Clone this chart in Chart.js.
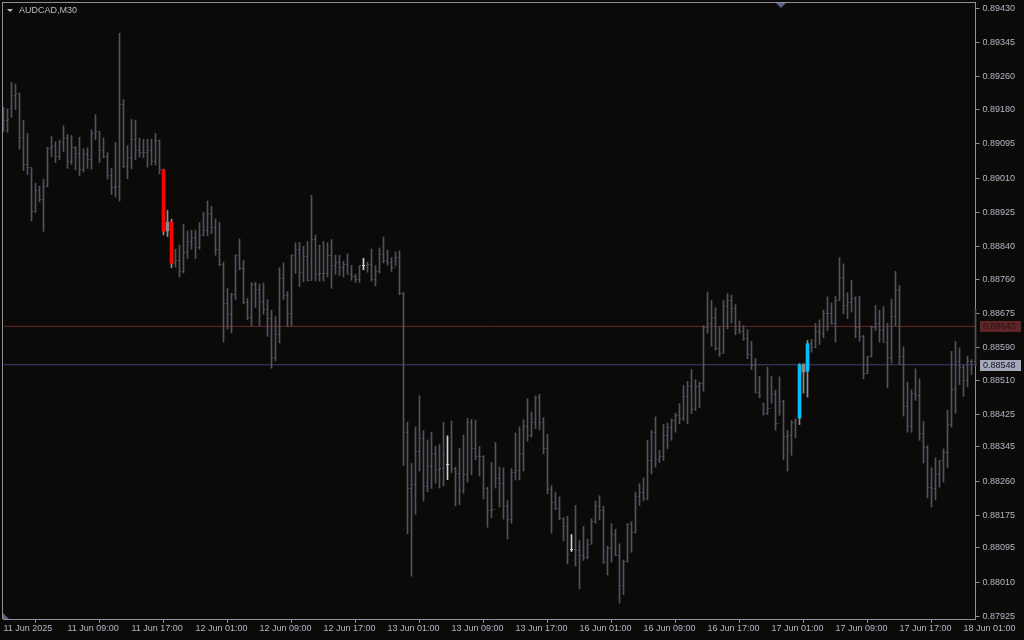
<!DOCTYPE html>
<html>
<head>
<meta charset="utf-8">
<title>AUDCAD,M30</title>
<script src="https://cdn.jsdelivr.net/npm/chart.js@4.4.1/dist/chart.umd.min.js"></script>
<style>
  html, body { margin: 0; padding: 0; background: #0c0a08; }
  canvas { display: block; }
</style>
</head>
<body>
<canvas id="chart" width="1024" height="640"></canvas>
<script>
// AUDCAD M30 bars, 11 Jun 01:00 .. 18 Jun 02:30
const symbol = "AUDCAD,M30";

const opens = [
  0.89155,0.89153,0.89181,0.89215,0.89219,0.89111,0.89044,0.89036,0.88928,0.88979,
  0.88958,0.88988,0.89084,0.89087,0.89064,0.89098,0.89109,0.89051,0.89086,0.89070,
  0.89030,0.89069,0.89056,0.89120,0.89125,0.89078,0.89064,0.89016,0.88986,0.88990,
  0.89191,0.89038,0.89062,0.89106,0.89078,0.89074,0.89072,0.89078,0.89051,0.89102,
  0.89030,0.88879,0.88901,0.88799,0.88806,0.88779,0.88825,0.88853,0.88862,0.88839,
  0.88867,0.88881,0.88923,0.88887,0.88834,0.88797,0.88699,0.88673,0.88723,0.88819,
  0.88785,0.88702,0.88664,0.88746,0.88735,0.88704,0.88685,0.88662,0.88565,0.88622,
  0.88762,0.88720,0.88676,0.88819,0.88833,0.88777,0.88816,0.88757,0.88858,0.88772,
  0.88774,0.88774,0.88819,0.88793,0.88802,0.88788,0.88797,0.88772,0.88766,0.88760,
  0.88794,0.88794,0.88797,0.88760,0.88779,0.88822,0.88806,0.88800,0.88788,0.88814,
  0.88725,0.88381,0.88243,0.88251,0.88334,0.88365,0.88248,0.88297,0.88329,0.88290,
  0.88292,0.88301,0.88301,0.88292,0.88278,0.88236,0.88276,0.88406,0.88341,0.88320,
  0.88320,0.88243,0.88188,0.88189,0.88266,0.88254,0.88198,0.88164,0.88282,0.88287,
  0.88329,0.88395,0.88373,0.88406,0.88468,0.88406,0.88340,0.88240,0.88208,0.88192,
  0.88168,0.88149,0.88090,0.88090,0.88089,0.88076,0.88070,0.88103,0.88159,0.88198,
  0.88188,0.88060,0.88094,0.88128,0.88076,0.88002,0.88061,0.88153,0.88132,0.88223,
  0.88231,0.88216,0.88310,0.88381,0.88313,0.88320,0.88373,0.88394,0.88409,0.88423,
  0.88414,0.88470,0.88493,0.88437,0.88493,0.88501,0.88640,0.88650,0.88664,0.88588,
  0.88575,0.88692,0.88707,0.88687,0.88635,0.88631,0.88612,0.88574,0.88546,0.88480,
  0.88452,0.88428,0.88439,0.88475,0.88402,0.88456,0.88371,0.88372,0.88406,0.88416,
  0.88548,0.88532,0.88600,0.88590,0.88631,0.88626,0.88674,0.88676,0.88650,0.88707,
  0.88763,0.88695,0.88703,0.88711,0.88640,0.88617,0.88526,0.88569,0.88641,0.88650,
  0.88633,0.88604,0.88565,0.88668,0.88732,0.88569,0.88445,0.88395,0.88478,0.88472,
  0.88377,0.88343,0.88245,0.88241,0.88277,0.88311,0.88332,0.88400,0.88486,0.88555,
  0.88542,0.88509,0.88555,0.88557
];
const highs = [
  0.89185,0.89181,0.89247,0.89242,0.89220,0.89153,0.89120,0.89036,0.88997,0.88990,
  0.89007,0.89086,0.89113,0.89100,0.89104,0.89139,0.89118,0.89115,0.89088,0.89111,
  0.89083,0.89085,0.89129,0.89167,0.89125,0.89109,0.89073,0.89034,0.89098,0.89368,
  0.89204,0.89090,0.89155,0.89153,0.89109,0.89106,0.89106,0.89106,0.89120,0.89104,
  0.89032,0.88930,0.88908,0.88834,0.88844,0.88895,0.88879,0.88881,0.88881,0.88900,
  0.88925,0.88953,0.88940,0.88909,0.88900,0.88802,0.88737,0.88725,0.88820,0.88859,
  0.88806,0.88712,0.88751,0.88752,0.88748,0.88750,0.88709,0.88683,0.88667,0.88788,
  0.88800,0.88729,0.88820,0.88850,0.88851,0.88841,0.88853,0.88967,0.88869,0.88844,
  0.88853,0.88850,0.88858,0.88819,0.88819,0.88804,0.88822,0.88794,0.88772,0.88793,
  0.88811,0.88802,0.88834,0.88793,0.88837,0.88864,0.88832,0.88813,0.88827,0.88830,
  0.88727,0.88406,0.88304,0.88394,0.88471,0.88385,0.88362,0.88381,0.88346,0.88351,
  0.88406,0.88372,0.88409,0.88295,0.88341,0.88374,0.88416,0.88413,0.88411,0.88346,
  0.88323,0.88245,0.88306,0.88356,0.88295,0.88293,0.88212,0.88291,0.88379,0.88394,
  0.88412,0.88464,0.88431,0.88471,0.88475,0.88417,0.88376,0.88249,0.88233,0.88221,
  0.88170,0.88173,0.88128,0.88200,0.88113,0.88148,0.88117,0.88167,0.88211,0.88224,
  0.88198,0.88099,0.88155,0.88141,0.88105,0.88065,0.88155,0.88160,0.88233,0.88254,
  0.88268,0.88361,0.88386,0.88419,0.88336,0.88400,0.88404,0.88414,0.88428,0.88452,
  0.88497,0.88507,0.88536,0.88511,0.88505,0.88645,0.88728,0.88707,0.88689,0.88641,
  0.88707,0.88724,0.88720,0.88697,0.88656,0.88645,0.88635,0.88606,0.88563,0.88519,
  0.88453,0.88542,0.88519,0.88485,0.88518,0.88460,0.88386,0.88410,0.88414,0.88551,
  0.88551,0.88608,0.88611,0.88650,0.88659,0.88683,0.88716,0.88701,0.88717,0.88813,
  0.88798,0.88726,0.88757,0.88716,0.88717,0.88621,0.88569,0.88644,0.88695,0.88683,
  0.88692,0.88650,0.88710,0.88779,0.88744,0.88592,0.88505,0.88486,0.88538,0.88513,
  0.88408,0.88348,0.88293,0.88318,0.88311,0.88340,0.88435,0.88581,0.88606,0.88590,
  0.88546,0.88569,0.88561,0.88685
];
const lows = [
  0.89125,0.89123,0.89160,0.89179,0.89081,0.89028,0.89018,0.88904,0.88925,0.88951,
  0.88878,0.88988,0.89062,0.89048,0.89055,0.89076,0.89034,0.89044,0.89030,0.89016,
  0.89025,0.89034,0.89032,0.89104,0.89048,0.89060,0.89007,0.88969,0.88963,0.88953,
  0.89036,0.89008,0.89033,0.89055,0.89062,0.89060,0.89037,0.89042,0.89042,0.89020,
  0.88869,0.88865,0.88788,0.88790,0.88765,0.88775,0.88811,0.88834,0.88811,0.88834,
  0.88867,0.88867,0.88872,0.88819,0.88793,0.88604,0.88636,0.88627,0.88709,0.88783,
  0.88699,0.88660,0.88644,0.88690,0.88644,0.88673,0.88618,0.88539,0.88558,0.88602,
  0.88709,0.88642,0.88644,0.88774,0.88741,0.88753,0.88755,0.88757,0.88755,0.88755,
  0.88755,0.88765,0.88737,0.88772,0.88769,0.88765,0.88772,0.88757,0.88752,0.88752,
  0.88783,0.88777,0.88755,0.88743,0.88775,0.88800,0.88794,0.88779,0.88793,0.88721,
  0.88299,0.88130,0.88025,0.88178,0.88285,0.88211,0.88234,0.88242,0.88255,0.88243,
  0.88248,0.88264,0.88281,0.88199,0.88202,0.88230,0.88258,0.88276,0.88313,0.88273,
  0.88216,0.88146,0.88170,0.88243,0.88196,0.88166,0.88117,0.88156,0.88263,0.88263,
  0.88285,0.88359,0.88369,0.88390,0.88387,0.88328,0.88229,0.88131,0.88189,0.88165,
  0.88112,0.88055,0.88086,0.88050,0.87994,0.88064,0.88068,0.88105,0.88156,0.88164,
  0.88057,0.88028,0.88060,0.88076,0.87958,0.87979,0.88060,0.88084,0.88132,0.88200,
  0.88211,0.88214,0.88278,0.88295,0.88306,0.88311,0.88340,0.88361,0.88381,0.88402,
  0.88410,0.88402,0.88427,0.88435,0.88442,0.88483,0.88626,0.88594,0.88584,0.88569,
  0.88577,0.88637,0.88651,0.88622,0.88625,0.88608,0.88563,0.88536,0.88478,0.88466,
  0.88423,0.88425,0.88453,0.88386,0.88423,0.88313,0.88285,0.88324,0.88367,0.88400,
  0.88478,0.88468,0.88579,0.88590,0.88598,0.88615,0.88633,0.88648,0.88604,0.88707,
  0.88674,0.88662,0.88678,0.88615,0.88606,0.88513,0.88526,0.88567,0.88633,0.88604,
  0.88604,0.88491,0.88552,0.88645,0.88548,0.88421,0.88381,0.88381,0.88460,0.88361,
  0.88305,0.88219,0.88196,0.88214,0.88245,0.88258,0.88293,0.88394,0.88428,0.88499,
  0.88470,0.88493,0.88524,0.88546
];
const closes = [
  0.89153,0.89155,0.89215,0.89219,0.89111,0.89044,0.89036,0.88928,0.88979,0.88958,
  0.88988,0.89084,0.89087,0.89064,0.89098,0.89109,0.89051,0.89086,0.89070,0.89030,
  0.89069,0.89056,0.89120,0.89125,0.89078,0.89064,0.89016,0.88986,0.88990,0.89191,
  0.89038,0.89062,0.89106,0.89078,0.89074,0.89072,0.89078,0.89051,0.89102,0.89030,
  0.88879,0.88901,0.88799,0.88806,0.88779,0.88825,0.88853,0.88862,0.88839,0.88867,
  0.88881,0.88923,0.88887,0.88834,0.88797,0.88699,0.88673,0.88723,0.88819,0.88785,
  0.88702,0.88664,0.88746,0.88735,0.88704,0.88685,0.88662,0.88565,0.88622,0.88762,
  0.88720,0.88676,0.88819,0.88833,0.88777,0.88816,0.88757,0.88858,0.88772,0.88774,
  0.88774,0.88819,0.88793,0.88802,0.88788,0.88797,0.88772,0.88766,0.88760,0.88793,
  0.88794,0.88797,0.88760,0.88779,0.88822,0.88806,0.88800,0.88788,0.88814,0.88725,
  0.88381,0.88243,0.88251,0.88334,0.88365,0.88248,0.88297,0.88329,0.88290,0.88292,
  0.88327,0.88301,0.88292,0.88278,0.88236,0.88276,0.88406,0.88341,0.88320,0.88320,
  0.88243,0.88188,0.88189,0.88266,0.88254,0.88198,0.88164,0.88282,0.88287,0.88329,
  0.88395,0.88373,0.88406,0.88468,0.88406,0.88340,0.88240,0.88208,0.88192,0.88168,
  0.88149,0.88079,0.88090,0.88089,0.88076,0.88070,0.88103,0.88159,0.88198,0.88188,
  0.88060,0.88094,0.88128,0.88076,0.88002,0.88061,0.88153,0.88132,0.88223,0.88231,
  0.88216,0.88310,0.88381,0.88313,0.88320,0.88373,0.88394,0.88409,0.88423,0.88414,
  0.88470,0.88493,0.88437,0.88493,0.88501,0.88640,0.88650,0.88664,0.88588,0.88575,
  0.88692,0.88707,0.88687,0.88635,0.88631,0.88612,0.88574,0.88546,0.88480,0.88472,
  0.88428,0.88439,0.88475,0.88402,0.88456,0.88371,0.88372,0.88406,0.88410,0.88548,
  0.88530,0.88600,0.88590,0.88631,0.88626,0.88674,0.88676,0.88650,0.88707,0.88763,
  0.88695,0.88703,0.88711,0.88640,0.88617,0.88526,0.88569,0.88641,0.88650,0.88633,
  0.88604,0.88565,0.88668,0.88732,0.88569,0.88445,0.88395,0.88478,0.88472,0.88377,
  0.88343,0.88245,0.88241,0.88277,0.88311,0.88332,0.88400,0.88486,0.88555,0.88542,
  0.88509,0.88555,0.88557,0.88548
];

// bars painted as candles by the pattern highlighter
const redCandles = [40, 42];
const grayCandles = [41, 200];
const blueCandles = [199, 201];
// bars drawn in white (doji colour)
const dojiBars = [90, 111, 142];

const xTickBars = [0, 16, 32, 48, 64, 80, 96, 112, 128, 144, 160, 176, 192, 208, 224, 240];
const xTickLabels = [
  "11 Jun 2025", "11 Jun 09:00", "11 Jun 17:00", "12 Jun 01:00", "12 Jun 09:00", "12 Jun 17:00",
  "13 Jun 01:00", "13 Jun 09:00", "13 Jun 17:00", "16 Jun 01:00", "16 Jun 09:00", "16 Jun 17:00",
  "17 Jun 01:00", "17 Jun 09:00", "17 Jun 17:00", "18 Jun 01:00"
];
const yTicks = [
  0.89430, 0.89345, 0.89260, 0.89180, 0.89095, 0.89010, 0.88925, 0.88840, 0.88760, 0.88675,
  0.88590, 0.88510, 0.88425, 0.88345, 0.88260, 0.88175, 0.88095, 0.88010, 0.87925
];
const yMin = 0.87919;
const yMax = 0.89443;

const askLevel = 0.88643;
const bidLevel = 0.88548;

const bgColor = "#0c0a08";
const barColor = "#50535d";
const dojiColor = "#d2d2d2";
const wickColor = "#8e8e8e";
const axisColor = "#8a90a0";
const textColor = "#b3b9c6";
const markerColor = "#5a6288";
const font = { family: "Liberation Sans", size: 9 };

const candleIdx = [...redCandles, ...grayCandles, ...blueCandles].sort((a, b) => a - b);

function barColorFor(i) {
  if (candleIdx.includes(i)) return wickColor;
  if (dojiBars.includes(i)) return dojiColor;
  return barColor;
}
function bodyColorFor(i) {
  if (redCandles.includes(i)) return "#ff0000";
  if (blueCandles.includes(i)) return "#00bfff";
  return "#8a8a8a";
}

const wickData = highs.map((h, i) => ({ x: i, y: [lows[i], h] }));
const bodyData = candleIdx.map(i => ({ x: i, y: [opens[i], closes[i]] }));

// open / close ticks, title, frame and price labels
const mtPlugin = {
  id: "mtStyle",
  beforeDraw(chart) {
    const ctx = chart.ctx;
    ctx.save();
    ctx.fillStyle = bgColor;
    ctx.fillRect(0, 0, chart.width, chart.height);
    ctx.restore();
  },
  afterDatasetsDraw(chart) {
    const ctx = chart.ctx;
    const xs = chart.scales.x, ys = chart.scales.y;
    ctx.save();
    opens.forEach((o, i) => {
      if (candleIdx.includes(i)) return;
      const px = Math.floor(xs.getPixelForValue(i));
      ctx.fillStyle = barColorFor(i);
      ctx.fillRect(px - 1, Math.floor(ys.getPixelForValue(o)), 1, 1);
      ctx.fillRect(px + 1, Math.floor(ys.getPixelForValue(closes[i])), 1, 1);
    });
    ctx.restore();
  },
  afterDraw(chart) {
    const ctx = chart.ctx;
    const a = chart.chartArea;
    const ys = chart.scales.y;
    const l = Math.floor(a.left) - 1, t = Math.floor(a.top) - 1;
    ctx.save();
    // frame top / left
    ctx.fillStyle = axisColor;
    ctx.fillRect(l, t, Math.round(a.right) - l, 1);
    ctx.fillRect(l, t, 1, Math.round(a.bottom) - t);

    // symbol caption
    ctx.fillStyle = "#b8bdc9";
    ctx.beginPath();
    ctx.moveTo(7, 9); ctx.lineTo(13, 9); ctx.lineTo(10, 12); ctx.closePath();
    ctx.fill();
    ctx.font = "9px 'Liberation Sans'";
    ctx.textBaseline = "middle";
    ctx.fillText(symbol, 19, 10.5);

    // chart shift marker and corner marker
    ctx.fillStyle = markerColor;
    ctx.beginPath();
    ctx.moveTo(776, 3); ctx.lineTo(786, 3); ctx.lineTo(781, 8); ctx.closePath();
    ctx.fill();
    ctx.beginPath();
    ctx.moveTo(l + 1, a.bottom - 6); ctx.lineTo(l + 1, a.bottom); ctx.lineTo(l + 7, a.bottom); ctx.closePath();
    ctx.fill();

    // price labels on the axis
    const boxes = [
      { v: askLevel, bg: "#5e2626", fg: "#2a1010" },
      { v: bidLevel, bg: "#a3a9bb", fg: "#15151c" }
    ];
    boxes.forEach(b => {
      const py = Math.round(ys.getPixelForValue(b.v));
      ctx.fillStyle = b.bg;
      ctx.fillRect(980, py - 5, 41, 11);
      ctx.fillStyle = b.fg;
      ctx.textBaseline = "middle";
      ctx.fillText(b.v.toFixed(5), 983, py + 0.5);
    });
    ctx.restore();
  }
};

new Chart(document.getElementById("chart"), {
  type: "bar",
  data: {
    datasets: [
      {
        type: "line",
        label: "Ask",
        data: [{ x: 0, y: askLevel }, { x: 243, y: askLevel }],
        borderColor: "#6a2a2a",
        borderWidth: 1,
        pointRadius: 0,
        order: 3
      },
      {
        type: "line",
        label: "Bid",
        data: [{ x: 0, y: bidLevel }, { x: 243, y: bidLevel }],
        borderColor: "#3d4274",
        borderWidth: 1,
        pointRadius: 0,
        order: 3
      },
      {
        label: "High-Low",
        data: wickData,
        backgroundColor: ctx => barColorFor(ctx.dataIndex),
        barThickness: 1,
        grouped: false,
        clip: false,
        order: 2
      },
      {
        label: "Body",
        data: bodyData,
        backgroundColor: ctx => bodyColorFor(candleIdx[ctx.dataIndex]),
        barThickness: 3,
        grouped: false,
        clip: false,
        order: 1
      }
    ]
  },
  options: {
    responsive: false,
    animation: false,
    events: [],
    layout: { padding: { left: 3.5, top: 3, right: 0, bottom: 0 } },
    plugins: {
      legend: { display: false },
      tooltip: { enabled: false },
      title: { display: false }
    },
    scales: {
      x: {
        type: "linear",
        min: 0,
        max: 243,
        offset: false,
        afterBuildTicks: axis => { axis.ticks = xTickBars.map(v => ({ value: v })); },
        afterFit: axis => {
          axis.height = 21;
          axis.paddingLeft = 0; axis.paddingRight = 0;
          axis.paddingTop = 0; axis.paddingBottom = 0;
        },
        ticks: {
          callback: (v, i) => xTickLabels[i],
          align: "start",
          maxRotation: 0,
          autoSkip: false,
          padding: 0,
          color: textColor,
          font: font
        },
        grid: { drawOnChartArea: false, drawTicks: true, tickLength: 4, color: axisColor },
        border: { color: axisColor }
      },
      y: {
        type: "linear",
        position: "right",
        min: yMin,
        max: yMax,
        afterBuildTicks: axis => { axis.ticks = yTicks.map(v => ({ value: v })); },
        afterFit: axis => {
          axis.width = 48.5;
          axis.paddingTop = 0; axis.paddingBottom = 0;
          axis.paddingLeft = 0; axis.paddingRight = 0;
        },
        ticks: {
          callback: v => v.toFixed(5),
          autoSkip: false,
          padding: 3,
          color: textColor,
          font: font
        },
        grid: { drawOnChartArea: false, drawTicks: true, tickLength: 4, color: axisColor },
        border: { color: axisColor }
      }
    }
  },
  plugins: [mtPlugin]
});
</script>
</body>
</html>
